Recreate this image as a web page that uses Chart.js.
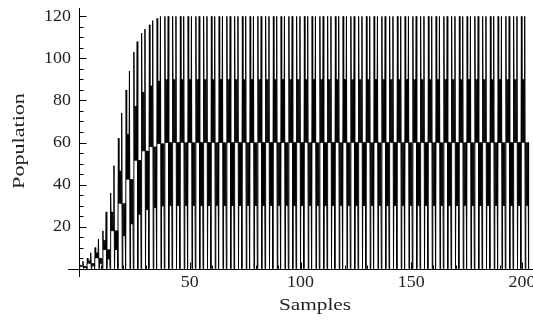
<!DOCTYPE html>
<html lang="en">
<head>
    <meta charset="UTF-8">
    <title>Population</title>
    <style>
        body, html {
            margin: 0;
            padding: 0;
            background: #ffffff;
        }
        .chart-box {
            width: 533px;
            height: 331px;
        }
    </style>
</head>
<body>
    <div class="chart-box">
        <canvas id="population-chart" width="533" height="331"></canvas>
    </div>

    <script src="https://cdn.jsdelivr.net/npm/chart.js"></script>
    <script>
        // readings of the population, one value every quarter sample
        const population = [
            0, 2, 1, 1.5, 1, 1.5, 1, 3.5, 0, 1, 0.5, 1, 0.5, 1,
            0, 5, 2.5, 3.8, 2.5, 3.8, 2.5, 7.5, 0, 2.5, 1.3, 2.5, 1.3, 2.5,
            0, 10, 5, 7.5, 5, 7.5, 5, 14, 0, 5, 2.5, 5, 2.5, 5,
            0, 18, 9, 13.5, 9, 13.5, 9, 27, 0, 9, 4.5, 9, 4.5, 9,
            0, 36, 18, 27, 18, 27, 18, 49, 0, 18, 9, 18, 9, 18,
            0, 62, 31, 46.5, 31, 46.5, 31, 74, 0, 31, 15.5, 31, 15.5, 31,
            0, 85, 42.5, 63.8, 42.5, 63.8, 42.5, 94, 0, 42.5, 21.3, 42.5, 21.3, 42.5,
            0, 103, 51.5, 77.3, 51.5, 77.3, 51.5, 108, 0, 51.5, 25.8, 51.5, 25.8, 51.5,
            0, 112, 56, 84, 56, 84, 56, 114, 0, 56, 28, 56, 28, 56,
            0, 116, 58, 87, 58, 87, 58, 118, 0, 58, 29, 58, 29, 58,
            0, 119, 59.5, 89.3, 59.5, 89.3, 59.5, 120, 0, 59.5, 29.8, 59.5, 29.8, 59.5,
            0, 120, 60, 90, 60, 90, 60, 120, 0, 60, 30, 60, 30, 60,
            0, 120, 60, 90, 60, 90, 60, 120, 0, 60, 30, 60, 30, 60,
            0, 120, 60, 90, 60, 90, 60, 120, 0, 60, 30, 60, 30, 60,
            0, 120, 60, 90, 60, 90, 60, 120, 0, 60, 30, 60, 30, 60,
            0, 120, 60, 90, 60, 90, 60, 120, 0, 60, 30, 60, 30, 60,
            0, 120, 60, 90, 60, 90, 60, 120, 0, 60, 30, 60, 30, 60,
            0, 120, 60, 90, 60, 90, 60, 120, 0, 60, 30, 60, 30, 60,
            0, 120, 60, 90, 60, 90, 60, 120, 0, 60, 30, 60, 30, 60,
            0, 120, 60, 90, 60, 90, 60, 120, 0, 60, 30, 60, 30, 60,
            0, 120, 60, 90, 60, 90, 60, 120, 0, 60, 30, 60, 30, 60,
            0, 120, 60, 90, 60, 90, 60, 120, 0, 60, 30, 60, 30, 60,
            0, 120, 60, 90, 60, 90, 60, 120, 0, 60, 30, 60, 30, 60,
            0, 120, 60, 90, 60, 90, 60, 120, 0, 60, 30, 60, 30, 60,
            0, 120, 60, 90, 60, 90, 60, 120, 0, 60, 30, 60, 30, 60,
            0, 120, 60, 90, 60, 90, 60, 120, 0, 60, 30, 60, 30, 60,
            0, 120, 60, 90, 60, 90, 60, 120, 0, 60, 30, 60, 30, 60,
            0, 120, 60, 90, 60, 90, 60, 120, 0, 60, 30, 60, 30, 60,
            0, 120, 60, 90, 60, 90, 60, 120, 0, 60, 30, 60, 30, 60,
            0, 120, 60, 90, 60, 90, 60, 120, 0, 60, 30, 60, 30, 60,
            0, 120, 60, 90, 60, 90, 60, 120, 0, 60, 30, 60, 30, 60,
            0, 120, 60, 90, 60, 90, 60, 120, 0, 60, 30, 60, 30, 60,
            0, 120, 60, 90, 60, 90, 60, 120, 0, 60, 30, 60, 30, 60,
            0, 120, 60, 90, 60, 90, 60, 120, 0, 60, 30, 60, 30, 60,
            0, 120, 60, 90, 60, 90, 60, 120, 0, 60, 30, 60, 30, 60,
            0, 120, 60, 90, 60, 90, 60, 120, 0, 60, 30, 60, 30, 60,
            0, 120, 60, 90, 60, 90, 60, 120, 0, 60, 30, 60, 30, 60,
            0, 120, 60, 90, 60, 90, 60, 120, 0, 60, 30, 60, 30, 60,
            0, 120, 60, 90, 60, 90, 60, 120, 0, 60, 30, 60, 30, 60,
            0, 120, 60, 90, 60, 90, 60, 120, 0, 60, 30, 60, 30, 60,
            0, 120, 60, 90, 60, 90, 60, 120, 0, 60, 30, 60, 30, 60,
            0, 120, 60, 90, 60, 90, 60, 120, 0, 60, 30, 60, 30, 60,
            0, 120, 60, 90, 60, 90, 60, 120, 0, 60, 30, 60, 30, 60,
            0, 120, 60, 90, 60, 90, 60, 120, 0, 60, 30, 60, 30, 60,
            0, 120, 60, 90, 60, 90, 60, 120, 0, 60, 30, 60, 30, 60,
            0, 120, 60, 90, 60, 90, 60, 120, 0, 60, 30, 60, 30, 60,
            0, 120, 60, 90, 60, 90, 60, 120, 0, 60, 30, 60, 30, 60,
            0, 120, 60, 90, 60, 90, 60, 120, 0, 60, 30, 60, 30, 60,
            0, 120, 60, 90, 60, 90, 60, 120, 0, 60, 30, 60, 30, 60,
            0, 120, 60, 90, 60, 90, 60, 120, 0, 60, 30, 60, 30, 60,
            0, 120, 60, 90, 60, 90, 60, 120, 0, 60, 30, 60, 30, 60,
            0, 120, 60, 90, 60, 90, 60, 120, 0, 60, 30, 60, 30, 60,
            0, 120, 60, 90, 60, 90, 60, 120, 0, 60, 30, 60, 30, 60,
            0, 120, 60, 90, 60, 90, 60, 120, 0, 60, 30, 60, 30, 60,
            0, 120, 60, 90, 60, 90, 60, 120, 0, 60, 30, 60, 30, 60,
            0, 120, 60, 90, 60, 90, 60, 120, 0, 60, 30, 60, 30, 60,
            0, 120, 60, 90, 60, 90, 60, 120, 0, 60, 30, 60, 30, 60,
            0, 120, 60, 90, 60, 90, 60, 120, 0, 60, 30, 60, 30, 60,
            0
        ];
        const sampleStep = 0.25;

        const xTicks = [50, 100, 150, 200];
        const xMinorTicks = [10, 20, 30, 40, 60, 70, 80, 90, 110, 120, 130, 140, 160, 170, 180, 190];
        const yTicks = [20, 40, 60, 80, 100, 120];
        const yMinorTicks = [5, 10, 15, 25, 30, 35, 45, 50, 55, 65, 70, 75, 85, 90, 95, 105, 110, 115];

        // draws Mathematica style axes crossing at the origin
        const originAxes = {
            id: 'originAxes',
            afterDatasetsDraw(chart) {
                const ctx = chart.ctx;
                const xs = chart.scales.x;
                const ys = chart.scales.y;
                const area = chart.chartArea;
                const x0 = Math.round(xs.getPixelForValue(0)) + 0.5;
                const y0 = Math.round(ys.getPixelForValue(0)) + 0.5;

                ctx.save();
                ctx.strokeStyle = '#000';
                ctx.lineWidth = 1;
                ctx.beginPath();
                ctx.moveTo(area.left, y0);
                ctx.lineTo(area.right, y0);
                ctx.moveTo(x0, area.bottom);
                ctx.lineTo(x0, area.top);

                yTicks.forEach(v => {
                    const py = Math.round(ys.getPixelForValue(v)) + 0.5;
                    ctx.moveTo(x0, py);
                    ctx.lineTo(x0 + 7, py);
                });
                yMinorTicks.forEach(v => {
                    const py = Math.round(ys.getPixelForValue(v)) + 0.5;
                    ctx.moveTo(x0, py);
                    ctx.lineTo(x0 + 4, py);
                });
                xTicks.forEach(v => {
                    const px = Math.round(xs.getPixelForValue(v)) + 0.5;
                    ctx.moveTo(px, y0);
                    ctx.lineTo(px, y0 - 7);
                });
                xMinorTicks.forEach(v => {
                    const px = Math.round(xs.getPixelForValue(v)) + 0.5;
                    ctx.moveTo(px, y0);
                    ctx.lineTo(px, y0 - 4);
                });
                ctx.stroke();

                ctx.fillStyle = '#222';
                ctx.font = '16px "Liberation Serif", serif';
                ctx.textBaseline = 'middle';
                yTicks.forEach(v => {
                    const py = ys.getPixelForValue(v);
                    ctx.save();
                    ctx.translate(71, py);
                    ctx.scale(1.12, 1);
                    ctx.textAlign = 'right';
                    ctx.fillText(String(v), 0, 0);
                    ctx.restore();
                });
                xTicks.forEach(v => {
                    const px = xs.getPixelForValue(v);
                    ctx.save();
                    ctx.translate(px, 283);
                    ctx.scale(1.12, 1);
                    ctx.textAlign = 'center';
                    ctx.fillText(String(v), 0, 0);
                    ctx.restore();
                });

                // axis titles
                ctx.font = '17px "Liberation Serif", serif';
                ctx.textBaseline = 'alphabetic';
                ctx.textAlign = 'center';
                ctx.save();
                ctx.translate(315, 310);
                ctx.scale(1.25, 1);
                ctx.fillText('Samples', 0, 0);
                ctx.restore();

                ctx.save();
                ctx.translate(24, 141);
                ctx.rotate(-Math.PI / 2);
                ctx.scale(1.3, 1);
                ctx.fillText('Population', 0, 0);
                ctx.restore();

                ctx.restore();
            }
        };

        const ctx = document.getElementById('population-chart').getContext('2d');
        new Chart(ctx, {
            type: 'line',
            data: {
                datasets: [{
                    label: 'Population',
                    data: population.map((v, i) => ({ x: i * sampleStep, y: v })),
                    borderColor: '#000',
                    borderWidth: 1,
                    borderJoinStyle: 'bevel',
                    pointRadius: 0,
                    tension: 0,
                    fill: false
                }]
            },
            options: {
                responsive: false,
                animation: false,
                layout: {
                    padding: { left: 68, right: 0, top: 8, bottom: 54 }
                },
                plugins: {
                    legend: { display: false },
                    tooltip: { enabled: false }
                },
                scales: {
                    x: { type: 'linear', min: -5, max: 205, display: false },
                    y: { min: -4, max: 124, display: false }
                }
            },
            plugins: [originAxes]
        });
    </script>
</body>
</html>
